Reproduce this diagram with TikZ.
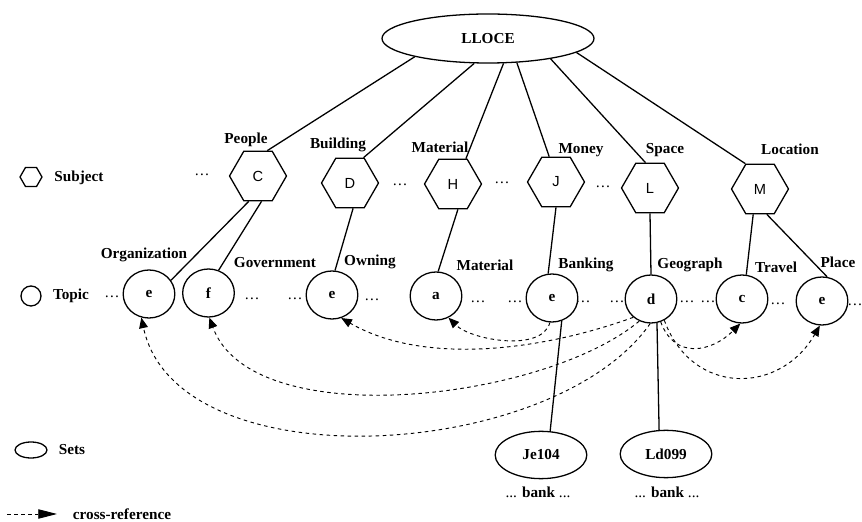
\documentclass[tikz,border=0pt]{standalone}
\usepackage{fontspec}
\setmainfont{Liberation Serif}
\newfontfamily\hexfont{Liberation Sans}
\usetikzlibrary{shapes.geometric, arrows.meta}

\begin{document}
\begin{tikzpicture}[x=0.3cm, y=0.3cm, font=\fontsize{13}{15}\selectfont\bfseries]
    \useasboundingbox (0,0) rectangle (86.2,52.2);
    % the whole dictionary
    \tikzstyle{root}=[draw, line width=1.1pt, ellipse, minimum width=6.36cm, minimum height=1.47cm]
    % subjects
    \tikzstyle{hex}=[draw, line width=1.1pt, regular polygon, regular polygon sides=6, minimum size=1.71cm, inner sep=0, font=\hexfont\mdseries\fontsize{12.5}{14}\selectfont]
    % topics
    \tikzstyle{topic}=[draw, line width=1.1pt, ellipse, minimum width=1.55cm, minimum height=1.44cm, inner sep=0]
    % sets
    \tikzstyle{sets}=[draw, line width=1.1pt, ellipse, minimum width=2.75cm, minimum height=1.42cm, inner sep=0]
    \tikzstyle{gap}=[inner sep=0, font=\mdseries\fontsize{13}{15}\selectfont]
    \tikzstyle{link}=[line width=1.1pt]
    \tikzstyle{xref}=[line width=0.8pt, dash pattern=on 3pt off 3pt, -{Triangle[length=9pt, width=7.5pt]}]

    \node[root] (lloce) at (48.8,48.35) {LLOCE};

    % subject level
    \node[hex] (C) at (25.8,34.6) {C};
    \node[hex] (D) at (35.0,33.9) {D};
    \node[hex] (H) at (45.3,33.8) {H};
    \node[hex] (J) at (55.6,34.0) {J};
    \node[hex] (L) at (65.0,33.4) {L};
    \node[hex] (M) at (76.0,33.3) {M};
    \node (people) at (24.6,38.2) {People};
    \node (building) at (33.8,37.7) {Building};
    \node (materialS) at (44.0,37.5) {Material};
    \node (money) at (58.1,37.2) {Money};
    \node (space) at (66.5,37.2) {Space};
    \node (location) at (79.0,37.3) {Location};

    % topic level
    \node[topic] (orgE) at (14.9,22.8) {e};
    \node[topic] (govF) at (20.85,22.9) {f};
    \node[topic] (ownE) at (33.2,22.7) {e};
    \node[topic] (matA) at (43.6,22.6) {a};
    \node[topic] (bankE) at (55.2,22.4) {e};
    \node[topic] (geoD) at (65.1,22.3) {d};
    \node[topic] (travC) at (74.2,22.3) {c};
    \node[topic] (placeE) at (82.2,22.1) {e};
    \node (organization) at (14.4,26.7) {Organization};
    \node (government) at (27.5,25.9) {Government};
    \node (owning) at (37.0,26.0) {Owning};
    \node (materialT) at (48.5,25.7) {Material};
    \node (banking) at (58.6,25.7) {Banking};
    \node (geograph) at (69.0,25.7) {Geograph};
    \node (travel) at (77.6,25.5) {Travel};
    \node (place) at (83.8,26.0) {Place};

    % sets
    \node[sets] (je104) at (54.1,6.7) {Je104};
    \node[sets] (ld099) at (66.6,6.8) {Ld099};
    \node (bankJ) at (53.8,3.0) {\textmd{...} bank \textmd{...}};
    \node (bankL) at (66.7,3.0) {\textmd{...} bank \textmd{...}};

    % dots between the nodes
    \foreach \x/\y [count=\i] in {20.2/34.7, 40.0/33.7, 50.2/33.9, 60.3/33.5,
        11.2/22.5, 25.2/22.3, 29.5/22.3, 37.2/22.2, 47.8/22.0, 51.5/22.0,
        58.3/22.0, 61.7/22.0, 68.7/22.0, 70.8/22.0, 77.8/21.8, 85.5/21.7}
        \node[gap] (dots\i) at (\x,\y) {\dots};

    % tree
    \draw[link] (lloce.194) -- (C.70);
    \draw[link] (lloce.241) -- (D.62);
    \draw[link] (lloce.302) -- (H.63);
    \draw[link] (lloce.320) -- (J.105);
    \draw[link] (lloce.342) -- (L.100);
    \draw[link] (lloce.351) -- (M.120);
    \draw[link] (C.250) -- (orgE.32);
    \draw[link] (C.278) -- (govF.66);
    \draw[link] (D.277) -- (ownE.83);
    \draw[link] (H.281) -- (matA.85);
    \draw[link] (J.270) -- (bankE.99);
    \draw[link] (L.270) -- (geoD.90);
    \draw[link] (M.255) -- (travC.80);
    \draw[link] (M.285) -- (placeE.78);
    \draw[link] (bankE.293) -- (je104.69);
    \draw[link] (geoD.284) -- (ld099.106);

    % cross-references
    \draw[xref] (bankE.265) to[out=255, in=-45, looseness=0.79] (matA.300);
    \draw[xref] (geoD.226) to[out=200, in=-30, looseness=0.84] (ownE.292);
    \draw[xref] (geoD.242) to[out=220, in=-70, looseness=0.74] (govF.272);
    \draw[xref] (geoD.268) to[out=235, in=-78, looseness=0.85] (orgE.252);
    \draw[xref] (geoD.293) to[out=-70, in=225, looseness=1.3] (travC.266);
    \draw[xref] (geoD.302) to[out=-70, in=240, looseness=1.32] (placeE.265);

    % legend
    \node[hex, minimum size=0.66cm] (legHex) at (3.1,34.5) {};
    \node (legSubject) at (7.9,34.4) {Subject};
    \node[topic, minimum width=0.6cm, minimum height=0.6cm] (legTopic) at (3.1,22.6) {};
    \node (legTopicTxt) at (7.1,22.6) {Topic};
    \node[sets, minimum width=0.96cm, minimum height=0.48cm] (legSets) at (3.1,7.2) {};
    \node (legSetsTxt) at (7.2,7.2) {Sets};
    \coordinate (legA) at (0.7,0.8);
    \coordinate (legB) at (5.7,0.8);
    \draw[xref, -{Triangle[length=16pt, width=8pt]}] (legA) -- (legB);
    \node (legXref) at (12.2,0.8) {cross-reference};
\end{tikzpicture}
\end{document}
